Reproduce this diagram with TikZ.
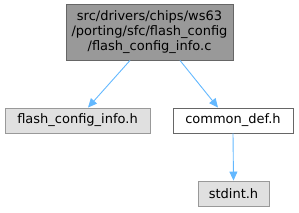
\documentclass[tikz,border=0pt]{standalone}
\usepackage{fontspec}
\setmainfont{DejaVu Sans}
\usetikzlibrary{arrows.meta}
\definecolor{topfill}{HTML}{999999}
\definecolor{topline}{HTML}{666666}
\definecolor{grayfill}{HTML}{E0E0E0}
\definecolor{grayline}{HTML}{999999}
\definecolor{edgecol}{HTML}{63B8FF}
\begin{document}
\begin{tikzpicture}[x=1pt,y=-1pt,
  filebox/.style={draw, line width=0.9pt, inner sep=0pt, font=\fontsize{13}{15}\selectfont, align=center},
  mainbox/.style={filebox, fill=topfill, draw=topline},
  extbox/.style={filebox, fill=grayfill, draw=grayline},
  docbox/.style={filebox, fill=white, draw=topline},
  dep/.style={draw=edgecol, line width=0.9pt, -{Triangle[length=9pt,width=8pt]}}]
\useasboundingbox (0,0) rectangle (299,212);
\node[mainbox, minimum width=167pt, minimum height=56pt] (main) at (149.5,32) {src/drivers/chips/ws63\\/porting/sfc/flash\_config\\/flash\_config\_info.c};
\node[extbox, minimum width=145pt, minimum height=25pt] (fci) at (77.5,120.5) {flash\_config\_info.h};
\node[docbox, minimum width=120pt, minimum height=25pt] (cd) at (233,120.5) {common\_def.h};
\node[extbox, minimum width=71pt, minimum height=25pt] (std) at (233.5,193.5) {stdint.h};
\draw[dep] (main.south -| 130,0) -- (fci.north -| 88,0);
\draw[dep] (main.south -| 180,0) -- (cd.north -| 218,0);
\draw[dep] (cd.south) -- (std.north);
\end{tikzpicture}
\end{document}
